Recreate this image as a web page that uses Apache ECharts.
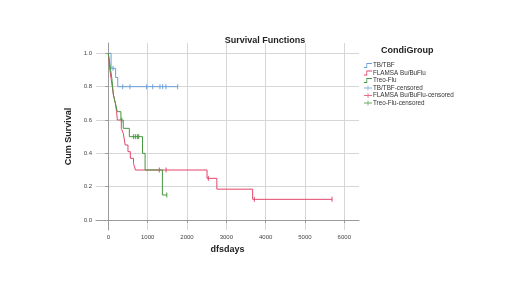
<!DOCTYPE html>
<html>
<head>
    <meta charset="utf-8">
    <title>Survival Functions</title>
    <style>
        body{ margin:0; background:#fff; }
        #km{ width:520px; height:293px; }
    </style>
    <script src="https://cdn.jsdelivr.net/npm/echarts@6/dist/echarts.min.js"></script>
</head>
<body>
<div id="km"></div>
<script>
    // tick labels
    var xTicks = [0, 1000, 2000, 3000, 4000, 5000, 6000];
    var yTicks = [0, 0.2, 0.4, 0.6, 0.8, 1.0];

    // TB/TBF
    var tbTime = [0, 70, 186, 240, 1770];
    var tbSurv = [1, 0.91, 0.855, 0.80, 0.80];
    var tbCensTime = [120, 364, 550, 974, 1127, 1313, 1380, 1465, 1762];
    var tbCensSurv = [0.91, 0.80, 0.80, 0.80, 0.80, 0.80, 0.80, 0.80, 0.80];

    // FLAMSA Bu/BuFlu
    var flTime = [0, 20, 40, 70, 100, 130, 180, 210, 230, 330, 380, 430, 500, 560, 640, 690, 2510, 2760, 3670, 5690];
    var flSurv = [1, 0.95, 0.90, 0.85, 0.80, 0.75, 0.70, 0.65, 0.60, 0.55, 0.52, 0.45, 0.41, 0.37, 0.34, 0.30, 0.25, 0.185, 0.124, 0.124];
    var flCensTime = [1298, 1468, 2545, 3715, 5690];
    var flCensSurv = [0.30, 0.30, 0.25, 0.124, 0.124];

    // Treo-Flu
    var trTime = [0, 30, 60, 90, 130, 180, 230, 320, 380, 535, 870, 935, 1375, 1486];
    var trSurv = [1, 0.95, 0.90, 0.85, 0.75, 0.70, 0.65, 0.60, 0.55, 0.50, 0.40, 0.30, 0.15, 0.15];
    var trCensTime = [340, 640, 690, 740, 770, 1486];
    var trCensSurv = [0.60, 0.50, 0.50, 0.50, 0.50, 0.15];

    var colBlue = '#6a9fd6', colRed = '#e2476a', colGreen = '#45973f';

    function pairs(t, s) {
        var out = [];
        for (var i = 0; i < t.length; i++) out.push([t[i], s[i]]);
        return out;
    }

    var plusIcon = 'path://M4.5,0h1v6h-1zM0,2.5h10v1h-10z';
    var stepIcon = 'path://M0,5h3v-5h7v1h-6v5h-4z';
    var censSym = 'path://M0,0h1v10h-1z';

    function lineSeries(name, t, s, c) {
        return {
            name: name, type: 'line', step: 'end', data: pairs(t, s),
            showSymbol: false, symbol: 'none',
            lineStyle: { color: c, width: 1 }, itemStyle: { color: c },
            silent: true, z: 3
        };
    }
    function censSeries(name, t, s, c) {
        return {
            name: name, type: 'scatter', data: pairs(t, s),
            symbol: censSym, symbolSize: [1.2, 5],
            itemStyle: { color: c }, silent: true, z: 4
        };
    }

    var option = {
        animation: false,
        title: {
            text: 'Survival Functions', left: 260, top: 31, textAlign: 'center',
            textStyle: { fontFamily: 'Liberation Sans', fontSize: 9, fontWeight: 'bold', color: '#222' }
        },
        graphic: [{
            type: 'text', left: 381, top: 46,
            style: { text: 'CondiGroup', fontFamily: 'Liberation Sans', fontSize: 9, fontWeight: 'bold', fill: '#222' }
        }],
        legend: {
            orient: 'vertical', left: 359, top: 57,
            itemWidth: 8, itemHeight: 5, itemGap: 0.5,
            textStyle: { fontFamily: 'Liberation Sans', fontSize: 6.3, lineHeight: 7, color: '#333', padding: [0, 0, 0, -4] },
            data: [
                { name: 'TB/TBF', icon: stepIcon },
                { name: 'FLAMSA Bu/BuFlu', icon: stepIcon },
                { name: 'Treo-Flu', icon: stepIcon },
                { name: 'TB/TBF-censored', icon: plusIcon },
                { name: 'FLAMSA Bu/BuFlu-censored', icon: plusIcon },
                { name: 'Treo-Flu-censored', icon: plusIcon }
            ]
        },
        grid: { left: 96, right: 161, top: 43, bottom: 63 },
        xAxis: {
            type: 'value', min: -313, max: 6374,
            name: 'dfsdays', nameLocation: 'middle', nameGap: 12,
            nameTextStyle: { fontFamily: 'Liberation Sans', fontSize: 9, fontWeight: 'bold', color: '#222' },
            axisLine: { show: true, lineStyle: { color: '#9a9a9a', width: 1 } },
            axisTick: { show: true, customValues: xTicks, length: 3, lineStyle: { color: '#9a9a9a' } },
            axisLabel: {
                customValues: xTicks, fontFamily: 'Liberation Sans', fontSize: 6, color: '#444', margin: 4,
                formatter: function (v) { return String(v); }
            },
            splitLine: { show: true, lineStyle: { color: '#d6d6d6', width: 1 } }
        },
        yAxis: {
            type: 'value', min: -0.06, max: 1.062,
            name: 'Cum Survival', nameLocation: 'middle', nameGap: 13, nameRotate: 90,
            nameTextStyle: { fontFamily: 'Liberation Sans', fontSize: 9, fontWeight: 'bold', color: '#222' },
            axisLine: { show: true, lineStyle: { color: '#9a9a9a', width: 1 } },
            axisTick: { show: true, customValues: yTicks, length: 3, lineStyle: { color: '#9a9a9a' } },
            axisLabel: {
                customValues: yTicks, fontFamily: 'Liberation Sans', fontSize: 6, color: '#444', margin: 4,
                formatter: function (v) { return v.toFixed(1); }
            },
            splitLine: { show: true, lineStyle: { color: '#d6d6d6', width: 1 } }
        },
        series: [
            lineSeries('TB/TBF', tbTime, tbSurv, colBlue),
            lineSeries('FLAMSA Bu/BuFlu', flTime, flSurv, colRed),
            lineSeries('Treo-Flu', trTime, trSurv, colGreen),
            censSeries('TB/TBF-censored', tbCensTime, tbCensSurv, colBlue),
            censSeries('FLAMSA Bu/BuFlu-censored', flCensTime, flCensSurv, colRed),
            censSeries('Treo-Flu-censored', trCensTime, trCensSurv, colGreen)
        ]
    };

    var chart = echarts.init(document.getElementById('km'), null, { renderer: 'canvas' });
    chart.setOption(option);
</script>
</body>
</html>
